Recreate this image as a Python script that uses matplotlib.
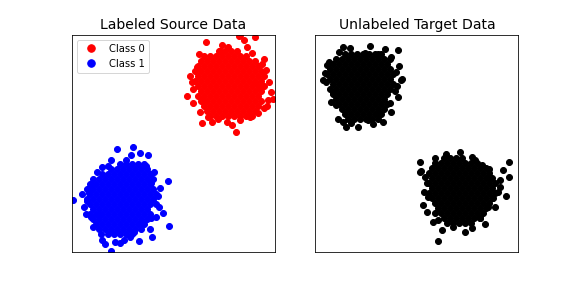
import matplotlib
matplotlib.use("Agg")
import matplotlib.pyplot as plt

# Point coordinates (arbitrary units, no ticks shown).
# Source domain, class 0 (red) - dense core rows then the scattered edge points.
class0_pts = [
    (147, 201), (153, 201), (159, 201), (165, 201),
    (132, 196), (138, 196), (144, 196), (150, 196), (156, 196), (162, 196), (168, 196), (174, 196),
    (129, 191), (135, 191), (141, 191), (147, 191), (153, 191), (159, 191), (165, 191), (171, 191),
    (177, 191), (183, 191),
    (126, 186), (132, 186), (138, 186), (144, 186), (150, 186), (156, 186), (162, 186), (168, 186),
    (174, 186), (180, 186), (186, 186),
    (123, 181), (129, 181), (135, 181), (141, 181), (147, 181), (153, 181), (159, 181), (165, 181),
    (171, 181), (177, 181), (183, 181), (189, 181),
    (126, 176), (132, 176), (138, 176), (144, 176), (150, 176), (156, 176), (162, 176), (168, 176),
    (174, 176), (180, 176), (186, 176), (192, 176),
    (123, 171), (129, 171), (135, 171), (141, 171), (147, 171), (153, 171), (159, 171), (165, 171),
    (171, 171), (177, 171), (183, 171), (189, 171),
    (126, 166), (132, 166), (138, 166), (144, 166), (150, 166), (156, 166), (162, 166), (168, 166),
    (174, 166), (180, 166), (186, 166), (192, 166),
    (129, 161), (135, 161), (141, 161), (147, 161), (153, 161), (159, 161), (165, 161), (171, 161),
    (177, 161), (183, 161), (189, 161),
    (126, 156), (132, 156), (138, 156), (144, 156), (150, 156), (156, 156), (162, 156), (168, 156),
    (174, 156), (180, 156), (186, 156),
    (129, 151), (135, 151), (141, 151), (147, 151), (153, 151), (159, 151), (165, 151), (171, 151),
    (177, 151), (183, 151), (189, 151),
    (132, 146), (138, 146), (144, 146), (150, 146), (156, 146), (162, 146), (168, 146), (174, 146),
    (180, 146), (186, 146),
    (135, 141), (141, 141), (147, 141), (153, 141), (159, 141), (165, 141), (171, 141), (177, 141),
    (183, 141),
    (138, 136), (144, 136), (150, 136), (156, 136), (162, 136), (168, 136), (174, 136), (180, 136),
    (134, 210), (167, 216), (183, 215), (172, 212), (156, 205), (148, 201), (127, 198), (180, 199),
    (192, 193), (125, 185), (194, 182), (120, 170), (115, 156), (121, 149), (130, 152), (196, 152),
    (201, 153), (192, 144), (178, 135), (168, 132), (130, 129), (136, 135), (146, 133), (155, 130),
    (164, 120), (183, 169), (188, 164), (168, 217),
    (118, 176), (121, 163), (197, 170), (199, 160), (195, 146), (140, 130), (160, 127), (150, 207),
    (175, 205), (190, 188), (128, 140), (186, 139),
]

# Source domain, class 1 (blue)
class1_pts = [
    (48, 88), (54, 88), (60, 88), (66, 88), (72, 88),
    (39, 83), (45, 83), (51, 83), (57, 83), (63, 83), (69, 83), (75, 83),
    (30, 78), (36, 78), (42, 78), (48, 78), (54, 78), (60, 78), (66, 78), (72, 78), (78, 78),
    (21, 73), (27, 73), (33, 73), (39, 73), (45, 73), (51, 73), (57, 73), (63, 73), (69, 73),
    (75, 73), (81, 73),
    (18, 68), (24, 68), (30, 68), (36, 68), (42, 68), (48, 68), (54, 68), (60, 68), (66, 68),
    (72, 68), (78, 68),
    (15, 63), (21, 63), (27, 63), (33, 63), (39, 63), (45, 63), (51, 63), (57, 63), (63, 63),
    (69, 63), (75, 63), (81, 63),
    (18, 58), (24, 58), (30, 58), (36, 58), (42, 58), (48, 58), (54, 58), (60, 58), (66, 58),
    (72, 58), (78, 58), (84, 58),
    (15, 53), (21, 53), (27, 53), (33, 53), (39, 53), (45, 53), (51, 53), (57, 53), (63, 53),
    (69, 53), (75, 53), (81, 53),
    (18, 48), (24, 48), (30, 48), (36, 48), (42, 48), (48, 48), (54, 48), (60, 48), (66, 48),
    (72, 48), (78, 48), (84, 48),
    (21, 43), (27, 43), (33, 43), (39, 43), (45, 43), (51, 43), (57, 43), (63, 43), (69, 43),
    (75, 43),
    (18, 38), (24, 38), (30, 38), (36, 38), (42, 38), (48, 38), (54, 38), (60, 38), (66, 38),
    (72, 38), (78, 38),
    (21, 33), (27, 33), (33, 33), (39, 33), (45, 33), (51, 33), (57, 33), (63, 33), (69, 33),
    (75, 33),
    (24, 28), (30, 28), (36, 28), (42, 28), (48, 28), (54, 28), (60, 28), (66, 28), (72, 28),
    (27, 23), (33, 23), (39, 23), (45, 23), (51, 23), (57, 23), (63, 23), (69, 23),
    (36, 18), (42, 18), (48, 18), (54, 18), (60, 18),
    (45, 103), (61, 105), (68, 99), (59, 97), (76, 97), (39, 92), (54, 92), (36, 86), (82, 80),
    (96, 71), (79, 69), (86, 56), (1, 52), (15, 51), (17, 59), (19, 67), (91, 39), (79, 34),
    (97, 26), (19, 35), (21, 25), (29, 18), (33, 8), (39, 1), (43, 10), (48, 9), (58, 15),
    (67, 11), (80, 15), (78, 23), (70, 29), (27, 37),
    (10, 58), (12, 45), (14, 38), (88, 64), (87, 45), (84, 35), (30, 12), (52, 12), (62, 20),
    (74, 86), (30, 85), (25, 80),
]

# Target domain (unlabeled), upper-left cluster
target_a_pts = [
    (30, 198), (36, 198), (42, 198), (48, 198), (54, 198), (60, 198), (66, 198),
    (21, 193), (27, 193), (33, 193), (39, 193), (45, 193), (51, 193), (57, 193), (63, 193),
    (69, 193), (75, 193),
    (18, 188), (24, 188), (30, 188), (36, 188), (42, 188), (48, 188), (54, 188), (60, 188),
    (66, 188), (72, 188),
    (15, 183), (21, 183), (27, 183), (33, 183), (39, 183), (45, 183), (51, 183), (57, 183),
    (63, 183), (69, 183), (75, 183),
    (12, 178), (18, 178), (24, 178), (30, 178), (36, 178), (42, 178), (48, 178), (54, 178),
    (60, 178), (66, 178), (72, 178), (78, 178),
    (15, 173), (21, 173), (27, 173), (33, 173), (39, 173), (45, 173), (51, 173), (57, 173),
    (63, 173), (69, 173), (75, 173),
    (18, 168), (24, 168), (30, 168), (36, 168), (42, 168), (48, 168), (54, 168), (60, 168),
    (66, 168), (72, 168), (78, 168),
    (15, 163), (21, 163), (27, 163), (33, 163), (39, 163), (45, 163), (51, 163), (57, 163),
    (63, 163), (69, 163), (75, 163),
    (18, 158), (24, 158), (30, 158), (36, 158), (42, 158), (48, 158), (54, 158), (60, 158),
    (66, 158), (72, 158),
    (21, 153), (27, 153), (33, 153), (39, 153), (45, 153), (51, 153), (57, 153), (63, 153),
    (69, 153),
    (24, 148), (30, 148), (36, 148), (42, 148), (48, 148), (54, 148), (60, 148), (66, 148),
    (72, 148),
    (27, 143), (33, 143), (39, 143), (45, 143), (51, 143), (57, 143), (63, 143), (69, 143),
    (30, 138), (36, 138), (42, 138), (48, 138), (54, 138), (60, 138), (66, 138),
    (33, 133), (39, 133), (45, 133), (51, 133), (57, 133), (63, 133),
    (28, 205), (35, 204), (55, 206), (83, 202), (76, 195), (50, 199), (63, 198), (12, 187),
    (10, 179), (11, 170), (81, 180), (86, 172), (80, 161), (83, 155), (18, 159), (21, 147),
    (23, 133), (31, 125), (43, 125), (36, 129), (53, 132), (68, 130), (63, 139), (75, 149),
    (87, 173),
    (8, 172), (14, 190), (24, 200), (84, 186), (82, 166), (76, 140), (16, 150), (28, 130),
    (58, 128), (70, 203),
]

# Target domain (unlabeled), lower-right cluster
target_b_pts = [
    (129, 94), (135, 94), (141, 94), (147, 94),
    (120, 89), (126, 89), (132, 89), (138, 89), (144, 89), (150, 89), (156, 89), (162, 89),
    (117, 84), (123, 84), (129, 84), (135, 84), (141, 84), (147, 84), (153, 84), (159, 84),
    (165, 84), (171, 84),
    (114, 79), (120, 79), (126, 79), (132, 79), (138, 79), (144, 79), (150, 79), (156, 79),
    (162, 79), (168, 79), (174, 79),
    (117, 74), (123, 74), (129, 74), (135, 74), (141, 74), (147, 74), (153, 74), (159, 74),
    (165, 74), (171, 74), (177, 74),
    (114, 69), (120, 69), (126, 69), (132, 69), (138, 69), (144, 69), (150, 69), (156, 69),
    (162, 69), (168, 69), (174, 69), (180, 69),
    (117, 64), (123, 64), (129, 64), (135, 64), (141, 64), (147, 64), (153, 64), (159, 64),
    (165, 64), (171, 64), (177, 64),
    (114, 59), (120, 59), (126, 59), (132, 59), (138, 59), (144, 59), (150, 59), (156, 59),
    (162, 59), (168, 59), (174, 59), (180, 59),
    (117, 54), (123, 54), (129, 54), (135, 54), (141, 54), (147, 54), (153, 54), (159, 54),
    (165, 54), (171, 54), (177, 54),
    (120, 49), (126, 49), (132, 49), (138, 49), (144, 49), (150, 49), (156, 49), (162, 49),
    (168, 49), (174, 49),
    (123, 44), (129, 44), (135, 44), (141, 44), (147, 44), (153, 44), (159, 44), (165, 44),
    (171, 44),
    (120, 39), (126, 39), (132, 39), (138, 39), (144, 39), (150, 39), (156, 39), (162, 39),
    (168, 39),
    (129, 34), (135, 34), (141, 34), (147, 34), (153, 34), (159, 34), (165, 34),
    (132, 29), (138, 29), (144, 29), (150, 29), (156, 29),
    (131, 98), (145, 100), (105, 90), (106, 81), (157, 95), (167, 87), (174, 83), (194, 90),
    (194, 75), (185, 65), (191, 56), (174, 75), (112, 69), (108, 47), (113, 55), (123, 32),
    (127, 22), (123, 11), (138, 25), (157, 24), (165, 34), (173, 45), (178, 54), (105, 80),
    (110, 75), (109, 60), (112, 40), (118, 30), (185, 72), (183, 60), (180, 45), (170, 28),
    (150, 20), (120, 94), (160, 92), (188, 82),
]

x_range = (0, 203)
y_range = (0, 217)


def draw(ax, pts, color, label=None):
    xs, ys = zip(*pts)
    ax.plot(xs, ys, "o", color=color, markersize=6, label=label)


fig, axes = plt.subplots(1, 2, figsize=(8, 4), dpi=72)
fig.subplots_adjust(left=0.125, right=0.9, top=0.88, bottom=0.125, wspace=0.2)

ax = axes[0]
draw(ax, class0_pts, "r", "Class 0")
draw(ax, class1_pts, "b", "Class 1")
ax.set_title("Labeled Source Data", fontsize=14)
ax.legend(loc="upper left", markerscale=1.25)

ax = axes[1]
draw(ax, target_a_pts, "k")
draw(ax, target_b_pts, "k")
ax.set_title("Unlabeled Target Data", fontsize=14)

for ax in axes:
    ax.set_xlim(*x_range)
    ax.set_ylim(*y_range)
    ax.set_xticks([])
    ax.set_yticks([])

fig.savefig("out.png", dpi=72)
